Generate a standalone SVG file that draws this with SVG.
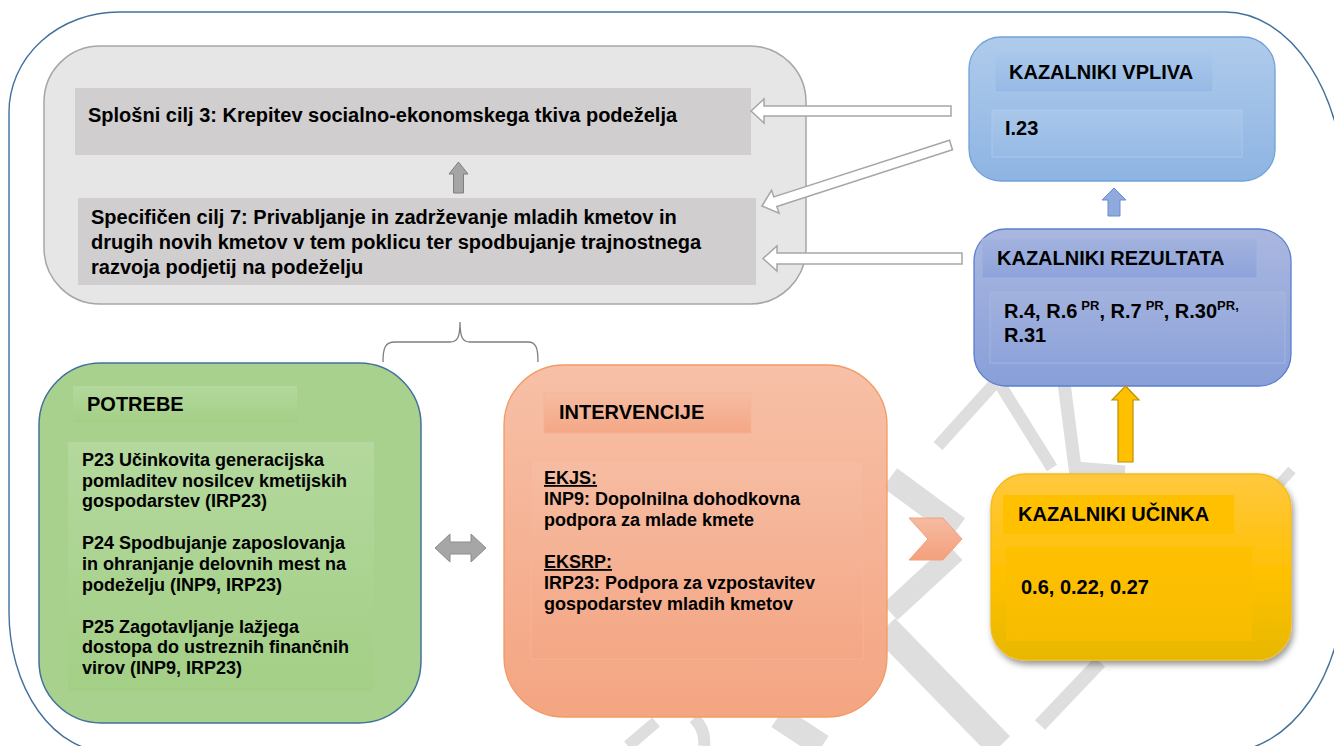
<svg xmlns="http://www.w3.org/2000/svg" width="1334" height="746" viewBox="0 0 1334 746">
<defs>
<style>
text{font-family:"Liberation Sans",Arial,sans-serif;font-weight:bold;fill:#000}
.h{font-size:20px}
.b18{font-size:18px}
.b20{font-size:20px}
.sup{font-size:13px}
.hollow{fill:#fff;stroke:#a6a6a6;stroke-width:1.5}
.wm{fill:none;stroke:#dedede;stroke-linecap:butt}
</style>
<linearGradient id="gBlue" x1="0" y1="0" x2="0" y2="1"><stop offset="0" stop-color="#afcbeb"/><stop offset="1" stop-color="#8eb4e3"/></linearGradient>
<linearGradient id="gBlueIn" x1="0" y1="0" x2="0" y2="1"><stop offset="0" stop-color="#a9c7ea"/><stop offset="1" stop-color="#96bae5"/></linearGradient>
<linearGradient id="gInd" x1="0" y1="0" x2="0" y2="1"><stop offset="0" stop-color="#aab7e0"/><stop offset="1" stop-color="#889fd9"/></linearGradient>
<linearGradient id="gIndIn" x1="0" y1="0" x2="0" y2="1"><stop offset="0" stop-color="#a2b2de"/><stop offset="1" stop-color="#8ea3da"/></linearGradient>
<linearGradient id="gGreenIn" x1="0" y1="0" x2="0" y2="1"><stop offset="0" stop-color="#b4d89d"/><stop offset="1" stop-color="#a3cf86"/></linearGradient>
<linearGradient id="gOr" x1="0" y1="0" x2="0" y2="1"><stop offset="0" stop-color="#f7c0a7"/><stop offset="1" stop-color="#f4a582"/></linearGradient>
<linearGradient id="gOrIn" x1="0" y1="0" x2="0" y2="1"><stop offset="0" stop-color="#f6bca2"/><stop offset="1" stop-color="#f4a785"/></linearGradient>
<linearGradient id="gChev" x1="0" y1="0" x2="0" y2="1"><stop offset="0" stop-color="#f5bba2"/><stop offset="1" stop-color="#f4a07c"/></linearGradient>
<linearGradient id="gYel" x1="0" y1="0" x2="0" y2="1"><stop offset="0" stop-color="#ffc83f"/><stop offset="0.55" stop-color="#ffc000"/><stop offset="1" stop-color="#e6b800"/></linearGradient>
<linearGradient id="gYelIn" x1="0" y1="0" x2="0" y2="1"><stop offset="0" stop-color="#ffc000"/><stop offset="1" stop-color="#f7bc00"/></linearGradient>
<filter id="shadow" x="-10%" y="-10%" width="125%" height="130%"><feDropShadow dx="2" dy="4" stdDeviation="3" flood-color="#000" flood-opacity="0.4"/></filter>
</defs>

<rect x="0" y="0" width="1334" height="746" fill="#fff"/>

<g id="watermark">
<path class="wm" stroke-width="12" d="M938,446 L995,383"/>
<path class="wm" stroke-width="12" d="M1001,386 L1052,468"/>
<path class="wm" stroke-width="13" d="M1064,383 L1075,468 L1125,472"/>
<path class="wm" stroke-width="24" d="M890,478 L958,528"/>
<path class="wm" stroke-width="22" d="M890,612 L955,552"/>
<path class="wm" stroke-width="28" d="M885,628 L1000,746"/>
<path class="wm" stroke-width="14" d="M1040,725 L1100,662"/>
<path class="wm" stroke-width="12" d="M628,746 L656,722"/>
<path class="wm" stroke-width="12" d="M694,718 Q706,730 704,746"/>
<path class="wm" stroke-width="24" d="M778,717 L822,746"/>
<path class="wm" stroke-width="10" d="M1272,492 L1292,470"/>
</g>

<path id="frame" d="M9,112 A110,100 0 0 1 119,12 L1225,12 A120,184 0 0 1 1345,196 L1345,577 A120,175 0 0 1 1225,752 L109,752 A100,140 0 0 1 9,612 Z" fill="none" stroke="#41719c" stroke-width="1.4"/>

<g id="cilji">
<rect x="44" y="46" width="762" height="258" rx="56" ry="56" fill="#e7e6e6" stroke="#a6a6a6" stroke-width="1.5"/>
</g>
<g id="splosni-cilj">
<rect x="75" y="88" width="676" height="67" fill="#d0cece"/>
<text class="b20" x="88" y="122">Splošni cilj 3: Krepitev socialno-ekonomskega tkiva podeželja</text>
</g>
<g id="specificen-cilj">
<rect x="78" y="198" width="678" height="87" fill="#d0cece"/>
<text class="b20" x="91" y="224">Specifičen cilj 7: Privabljanje in zadrževanje mladih kmetov in</text>
<text class="b20" x="91" y="249">drugih novih kmetov v tem poklicu ter spodbujanje trajnostnega</text>
<text class="b20" x="91" y="274">razvoja podjetij na podeželju</text>
</g>

<g id="kazalniki-vpliva">
<rect x="969" y="37" width="306" height="144" rx="32" ry="32" fill="url(#gBlue)" stroke="#6fa2d8" stroke-width="1.3"/>
<rect x="995" y="53" width="218" height="39" fill="url(#gBlueIn)" stroke="#a9c8ea" stroke-width="0.8"/>
<text class="h" x="1009" y="79">KAZALNIKI VPLIVA</text>
<rect x="992" y="110" width="250" height="47" fill="url(#gBlueIn)" stroke="#afcbec" stroke-width="0.8"/>
<text class="b20" x="1005" y="135">I.23</text>
</g>

<g id="kazalniki-rezultata">
<rect x="974" y="229" width="317" height="157" rx="32" ry="32" fill="url(#gInd)" stroke="#5b7fcb" stroke-width="1.3"/>
<rect x="982" y="239" width="275" height="39" fill="url(#gIndIn)" stroke="#a6b5e0" stroke-width="0.8"/>
<text class="h" x="997" y="265">KAZALNIKI REZULTATA</text>
<rect x="990" y="292" width="295" height="71" fill="url(#gIndIn)" stroke="#a9b8e1" stroke-width="0.8"/>
<text class="b20" x="1004" y="318">R.4, R.6<tspan class="sup" dx="4" dy="-8">PR</tspan><tspan dy="8">, R.7</tspan><tspan class="sup" dx="4" dy="-8">PR</tspan><tspan dy="8">, R.30</tspan><tspan class="sup" dy="-8">PR,</tspan></text>
<text class="b20" x="1004" y="342">R.31</text>
</g>

<g id="kazalniki-ucinka">
<rect x="991" y="474" width="300" height="186" rx="34" ry="34" fill="url(#gYel)" stroke="#f2bc1a" stroke-width="1.3" filter="url(#shadow)"/>
<rect x="1003" y="495" width="231" height="39" fill="#ffc000"/>
<text class="h" x="1018" y="521">KAZALNIKI UČINKA</text>
<rect x="1006" y="547" width="246" height="94" fill="url(#gYelIn)"/>
<text class="b20" x="1021" y="594">0.6, 0.22, 0.27</text>
</g>

<g id="potrebe">
<rect x="39" y="363" width="382" height="360" rx="62" ry="62" fill="#a9d18e" stroke="#41719c" stroke-width="1.5"/>
<rect x="73" y="386" width="224" height="37" fill="url(#gGreenIn)"/>
<text class="h" x="87" y="411">POTREBE</text>
<rect x="68" y="442" width="306" height="249" fill="url(#gGreenIn)"/>
<text class="b18" x="82" y="466">P23 Učinkovita generacijska</text>
<text class="b18" x="82" y="487">pomladitev nosilcev kmetijskih</text>
<text class="b18" x="82" y="507">gospodarstev (IRP23)</text>
<text class="b18" x="82" y="549">P24 Spodbujanje zaposlovanja</text>
<text class="b18" x="82" y="570">in ohranjanje delovnih mest na</text>
<text class="b18" x="82" y="591">podeželju (INP9, IRP23)</text>
<text class="b18" x="82" y="633">P25 Zagotavljanje lažjega</text>
<text class="b18" x="82" y="653">dostopa do ustreznih finančnih</text>
<text class="b18" x="82" y="674">virov (INP9, IRP23)</text>
</g>

<g id="intervencije">
<rect x="504" y="365" width="383" height="352" rx="60" ry="60" fill="url(#gOr)" stroke="#f29a62" stroke-width="1.3"/>
<rect x="544" y="393" width="207" height="40" fill="url(#gOrIn)" stroke="#f6b396" stroke-width="0.8"/>
<text class="h" x="559" y="419">INTERVENCIJE</text>
<rect x="531" y="461" width="332" height="198" fill="url(#gOrIn)" stroke="#f8b598" stroke-width="0.8"/>
<text class="b18" x="544" y="484" text-decoration="underline">EKJS:</text>
<text class="b18" x="544" y="505">INP9: Dopolnilna dohodkovna</text>
<text class="b18" x="544" y="526">podpora za mlade kmete</text>
<text class="b18" x="544" y="568" text-decoration="underline">EKSRP:</text>
<text class="b18" x="544" y="589">IRP23: Podpora za vzpostavitev</text>
<text class="b18" x="544" y="610">gospodarstev mladih kmetov</text>
</g>

<g id="connectors">
<polygon class="hollow" points="751,111 764,99 764,106 951,106 951,116 764,116 764,123"/>
<polygon class="hollow" points="762,206 779,213.1 776.8,206.5 952.5,149.8 949.5,140.2 773.8,196.9 771.6,190.3"/>
<polygon class="hollow" points="763,258.5 777,246 777,253 962,253 962,264 777,264 777,271"/>
<polygon points="458.5,162 468,174 463.5,174 463.5,193 453.5,193 453.5,174 449,174" fill="#a5a5a5" stroke="#7f7f7f" stroke-width="1"/>
<polygon points="1114,188 1126,200 1120,200 1120,216 1108,216 1108,200 1102,200" fill="#8faadc" stroke="#6a8bd0" stroke-width="1"/>
<polygon points="1125.5,386 1139,400 1133,400 1133,462 1118,462 1118,400 1112,400" fill="#ffc000" stroke="#bf9000" stroke-width="1.2"/>
<polygon points="435,548 450,534 450,542 471,542 471,534 486,548 471,562 471,554 450,554 450,562" fill="#a6a6a6" stroke="#8c8c8c" stroke-width="1"/>
<polygon points="909,518 943,518 962,539 943,560 909,560 928,539" fill="url(#gChev)" stroke="#f2a27c" stroke-width="1"/>
<path d="M383,362 C383,348 385,342 395,342 L450,342 C457,342 460,338 460,322 C460,338 463,342 470,342 L528,342 C536,342 538,348 538,362" fill="none" stroke="#7f7f7f" stroke-width="1.3"/>
</g>
</svg>
